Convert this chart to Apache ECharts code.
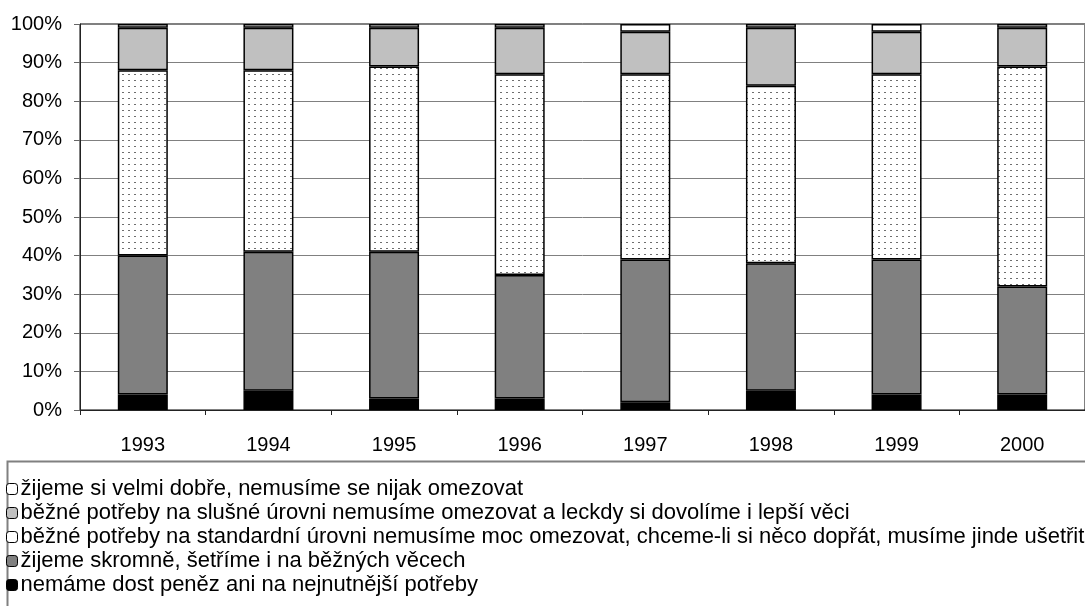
<!DOCTYPE html>
<html>
<head>
<meta charset="utf-8">
<script src="https://cdn.jsdelivr.net/npm/echarts@6/dist/echarts.min.js"></script>
<style>
  html, body { margin: 0; padding: 0; background: #fff; }
  #chart { width: 1085px; height: 606px; }
</style>
</head>
<body>
<div id="chart"></div>
<script>
const years = ['1993', '1994', '1995', '1996', '1997', '1998', '1999', '2000']

// podíly v % (odspodu nahoru)
const nemame = [4, 5, 3, 3, 2, 5, 4, 4]
const skromne = [36, 36, 38, 32, 37, 33, 35, 28]
const standard = [48, 47, 48, 52, 48, 46, 48, 57]
const slusne = [11, 11, 10, 12, 11, 15, 11, 10]
const dobre = [1, 1, 1, 1, 2, 1, 2, 1]

const names = [
    'nemáme dost peněz ani na nejnutnější potřeby',
    'žijeme skromně, šetříme i na běžných věcech',
    'běžné potřeby na standardní úrovni nemusíme moc omezovat, chceme-li si něco dopřát, musíme jinde ušetřit',
    'běžné potřeby na slušné úrovni nemusíme omezovat a leckdy si dovolíme i lepší věci',
    'žijeme si velmi dobře, nemusíme se nijak omezovat'
]

// tečkovaná výplň
const dotCanvas = document.createElement('canvas')
dotCanvas.width = 6
dotCanvas.height = 6
const ctx = dotCanvas.getContext('2d')
ctx.fillStyle = '#ffffff'
ctx.fillRect(0, 0, 6, 6)
ctx.fillStyle = '#6e6e6e'
ctx.fillRect(2, 2, 2, 1)

const font = 'Liberation Sans, Arial, sans-serif'

function bar(name, data, color) {
    return {
        name: name,
        type: 'bar',
        stack: 'total',
        barWidth: 50,
        data: data,
        itemStyle: { color: color, borderColor: '#000', borderWidth: 1.5 }
    }
}

const chart = echarts.init(document.getElementById('chart'))
chart.setOption({
    animation: false,
    grid: {
        left: 80,
        top: 24,
        width: 1016,
        height: 386,
        show: true,
        borderColor: '#000',
        borderWidth: 1,
        containLabel: false
    },
    xAxis: {
        type: 'category',
        data: years,
        axisLine: { lineStyle: { color: '#222', width: 1 } },
        axisTick: { show: true, length: 5, lineStyle: { color: '#222' } },
        axisLabel: { color: '#000', fontSize: 20, fontFamily: font, margin: 25 }
    },
    yAxis: {
        type: 'value',
        min: 0,
        max: 100,
        interval: 10,
        axisLine: { show: true, lineStyle: { color: '#222', width: 1 } },
        axisTick: { show: true, length: 6, lineStyle: { color: '#666' } },
        axisLabel: { color: '#000', fontSize: 20, fontFamily: font, margin: 18, formatter: '{value}%' },
        splitLine: { lineStyle: { color: '#808080', width: 1 } }
    },
    legend: {
        orient: 'vertical',
        left: 6,
        top: 478,
        itemWidth: 11,
        itemHeight: 11,
        itemGap: 2,
        padding: 0,
        textStyle: { color: '#000', fontSize: 22, fontFamily: font, lineHeight: 22, padding: [0, 0, 0, -2] },
        data: [
            { name: names[4], itemStyle: { color: '#fff', borderColor: '#000', borderWidth: 1 } },
            { name: names[3], itemStyle: { color: '#c0c0c0', borderColor: '#000', borderWidth: 1 } },
            { name: names[2], itemStyle: { color: '#fff', borderColor: '#000', borderWidth: 1 } },
            { name: names[1], itemStyle: { color: '#808080', borderColor: '#000', borderWidth: 1 } },
            { name: names[0], itemStyle: { color: '#000', borderColor: '#000', borderWidth: 1 } }
        ]
    },
    graphic: [{
        type: 'rect',
        left: 5,
        top: 459,
        shape: { width: 1100, height: 160 },
        style: { fill: 'none', stroke: '#808080', lineWidth: 2 },
        z: -1
    }],
    series: [
        bar(names[0], nemame, '#000'),
        bar(names[1], skromne, '#808080'),
        bar(names[2], standard, { image: dotCanvas, repeat: 'repeat' }),
        bar(names[3], slusne, '#c0c0c0'),
        bar(names[4], dobre, '#fff')
    ]
})
</script>
</body>
</html>
